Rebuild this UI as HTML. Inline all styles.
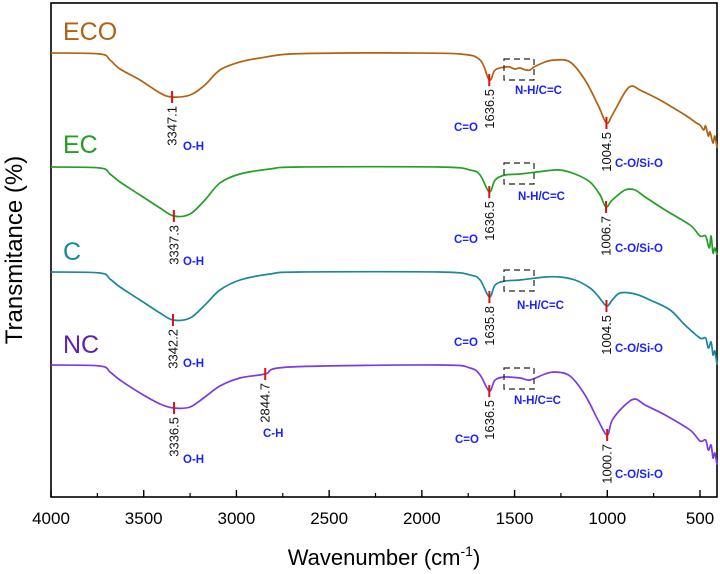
<!DOCTYPE html>
<html><head><meta charset="utf-8"><style>
html,body{margin:0;padding:0;background:#fff;}
svg{display:block;font-family:"Liberation Sans",sans-serif;}
</style></head><body>
<svg id="chart" width="720" height="574" viewBox="0 0 720 574" xmlns="http://www.w3.org/2000/svg"></svg>
<script>
// ---- data (wavenumber in cm-1, transmittance in arbitrary offset units) ----
const xTicks = [4000, 3500, 3000, 2500, 2000, 1500, 1000, 500];
const seriesNames = ["ECO", "EC", "C", "NC"];
const seriesColors = ["#b3600f", "#22a022", "#17899b", "#7b3ae6"];
const labelColors = ["#b3600f", "#22a022", "#17899b", "#5d22b0"];
const ecoWn = [4000,3736,3682,3628,3520,3412,3347,3250,3170,3089,2981,2873,2711,2400,2118,1794,1686,1636.5,1605,1552,1525,1500,1471,1440,1417,1395,1336,1282,1201,1120,1050,1004.5,973,904,867,824,716,581,520,500,480,470,455,446,430,420,408];
const ecoT  = [445,444,438,429,418,405,401,403,413,428,436,440,444,445,445,444,438,418,428,431,431,429,430,428,428,431,436,438,436,418,393,375,383,406,412,408,398,383,375,373,368,372,362,366,355,362,350];
const ecWn  = [4000,3736,3682,3628,3520,3412,3337.3,3250,3170,3089,2981,2819,2657,1902,1740,1686,1636.5,1605,1552,1471,1336,1255,1174,1093,1039,1006.7,973,904,850,796,688,554,500,470,450,440,430,420,408];
const ecT   = [331,330,324,316,303,290,282,284,298,315,324,329,331,331,328,323,306,318,323,324,327,328,324,316,303,291,298,308,308,301,288,273,262,262,250,262,245,250,243];
const cWn   = [4000,3736,3682,3628,3520,3412,3342.2,3250,3170,3089,2981,2819,2657,1902,1740,1686,1635.8,1605,1552,1471,1336,1255,1174,1093,1050,1004.5,973,931,850,769,661,581,500,470,455,440,430,420,408];
const cT    = [226,225,219,211,198,185,178,180,193,208,218,224,226,226,223,218,201,213,217,218,221,221,218,210,202,192,198,205,204,198,188,173,160,160,150,156,143,147,133];
const ncWn  = [4000,3736,3682,3628,3520,3412,3336.5,3250,3170,3089,2981,2844.7,2711,1902,1740,1686,1636.5,1605,1552,1471,1417,1336,1282,1201,1120,1050,1000.7,973,904,850,796,688,554,500,470,455,440,430,420,408];
const ncT   = [133,132,126,118,105,94,90,91,101,112,120,124,131,133,130,123,107,118,121,120,118,124,126,122,103,78,63,78,93,99,93,83,68,57,58,48,53,40,45,33];
const seriesWn = [ecoWn, ecWn, cWn, ncWn];
const seriesT = [ecoT, ecT, cT, ncT];
// peak annotations
const peakWn = [3347.1,1636.5,1004.5, 3337.3,1636.5,1006.7, 3342.2,1635.8,1004.5, 3336.5,2844.7,1636.5,1000.7];
const peakT  = [401,418,375, 282,306,291, 178,201,192, 90,124,107,63];
const peakLabels = ["3347.1","1636.5","1004.5","3337.3","1636.5","1006.7","3342.2","1635.8","1004.5","3336.5","2844.7","1636.5","1000.7"];

// ---- scales ----
const X0 = 51, X1 = 717, Y0 = 3, Y1 = 497;
function xScale(w){ return X0 + (4000 - w) * 0.18543; }
function yScale(t){ return 498 - t; }

const svg = document.getElementById('chart');
const NS = "http://www.w3.org/2000/svg";
function mk(tag, attrs, text){
  const e = document.createElementNS(NS, tag);
  for (const k in attrs) e.setAttribute(k, attrs[k]);
  if (text !== undefined) e.textContent = text;
  svg.appendChild(e);
  return e;
}
function smoothPath(pts){
  let d = 'M' + pts[0][0].toFixed(1) + ',' + pts[0][1].toFixed(1);
  for (let i = 0; i < pts.length - 1; i++){
    const p0 = pts[i-1] || pts[i], p1 = pts[i], p2 = pts[i+1], p3 = pts[i+2] || p2;
    const c1x = p1[0] + (p2[0]-p0[0])/6, c1y = p1[1] + (p2[1]-p0[1])/6;
    const c2x = p2[0] - (p3[0]-p1[0])/6, c2y = p2[1] - (p3[1]-p1[1])/6;
    d += 'C' + c1x.toFixed(1) + ',' + c1y.toFixed(1) + ' ' + c2x.toFixed(1) + ',' + c2y.toFixed(1) + ' ' + p2[0].toFixed(1) + ',' + p2[1].toFixed(1);
  }
  return d;
}

// frame
const frame = mk('rect', {x:X0, y:Y0, width:X1-X0, height:Y1-Y0, fill:'none', stroke:'#000', 'stroke-width':1.6});



// x ticks
for (let i = 0; i < xTicks.length; i++){
  const x = xScale(xTicks[i]);
  const t = mk('line', {x1:x, x2:x, y1:Y1, y2:Y1-7, stroke:'#000', 'stroke-width':1.4});
  
  
  const lb = mk('text', {x:x, y:524, 'text-anchor':'middle', 'font-size':17, fill:'#000'}, String(xTicks[i]));
  
  
  if (i < xTicks.length - 1){
    const xm = xScale(xTicks[i] - 250);
    const m = mk('line', {x1:xm, x2:xm, y1:Y1, y2:Y1-4, stroke:'#000', 'stroke-width':1.2});
    
    
  }
}
// axis titles
const xt = mk('text', {x:384, y:565, 'text-anchor':'middle', 'font-size':22, fill:'#000'});


xt.innerHTML = 'Wavenumber (cm<tspan font-size="14" dy="-9">-1</tspan><tspan dy="9">)</tspan>';
const yt = mk('text', {x:0, y:0, transform:'translate(22,250) rotate(-90)', 'text-anchor':'middle', 'font-size':24, fill:'#000'}, 'Transmitance (%)');



// series
const labelY = [40, 153, 260, 353];
for (let s = 0; s < seriesNames.length; s++){
  const wn = seriesWn[s], tv = seriesT[s];
  const pts = [];
  for (let i = 0; i < wn.length; i++) pts.push([xScale(wn[i]), yScale(tv[i])]);
  const p = mk('path', {d:smoothPath(pts), fill:'none', stroke:seriesColors[s], 'stroke-width':1.7, 'stroke-linejoin':'round'});
  
  
  const n = mk('text', {x:63, y:labelY[s], 'font-size':25, fill:labelColors[s]}, seriesNames[s]);
  
  
}

// peak markers and numbers
for (let i = 0; i < peakWn.length; i++){
  const x = xScale(peakWn[i]), y = yScale(peakT[i]);
  const r = mk('line', {x1:x, x2:x, y1:y-6, y2:y+6, stroke:'#e01010', 'stroke-width':2});
  
  
  const t = mk('text', {x:0, y:0, transform:'translate(' + (x+4.5) + ',' + (y+9) + ') rotate(-90)', 'text-anchor':'end', 'font-size':13, fill:'#111'}, peakLabels[i]);
  
  
}

// functional group labels
const grp = [
  ['O-H',183,150],['C=O',454,131],['N-H/C=C',515,94],['C-O/Si-O',615,167],
  ['O-H',183,265],['C=O',454,243],['N-H/C=C',518,200],['C-O/Si-O',615,252],
  ['O-H',183,367],['C=O',454,346],['N-H/C=C',517,309],['C-O/Si-O',615,352],
  ['O-H',183,463],['C-H',263,437],['C=O',455,443],['N-H/C=C',514,404],['C-O/Si-O',615,478]
];
for (const g of grp){
  const t = mk('text', {x:g[1], y:g[2], 'font-size':11.5, 'font-weight':'bold', fill:'#1a22ff'}, g[0]);
  
  
}
// dashed boxes
const boxY = [59, 163, 270, 368];
for (const by of boxY){
  const b = mk('rect', {x:504, y:by, width:30, height:21, fill:'none', stroke:'#222', 'stroke-width':1.2, 'stroke-dasharray':'6,4'});
  
  
}
</script>
</body></html>
